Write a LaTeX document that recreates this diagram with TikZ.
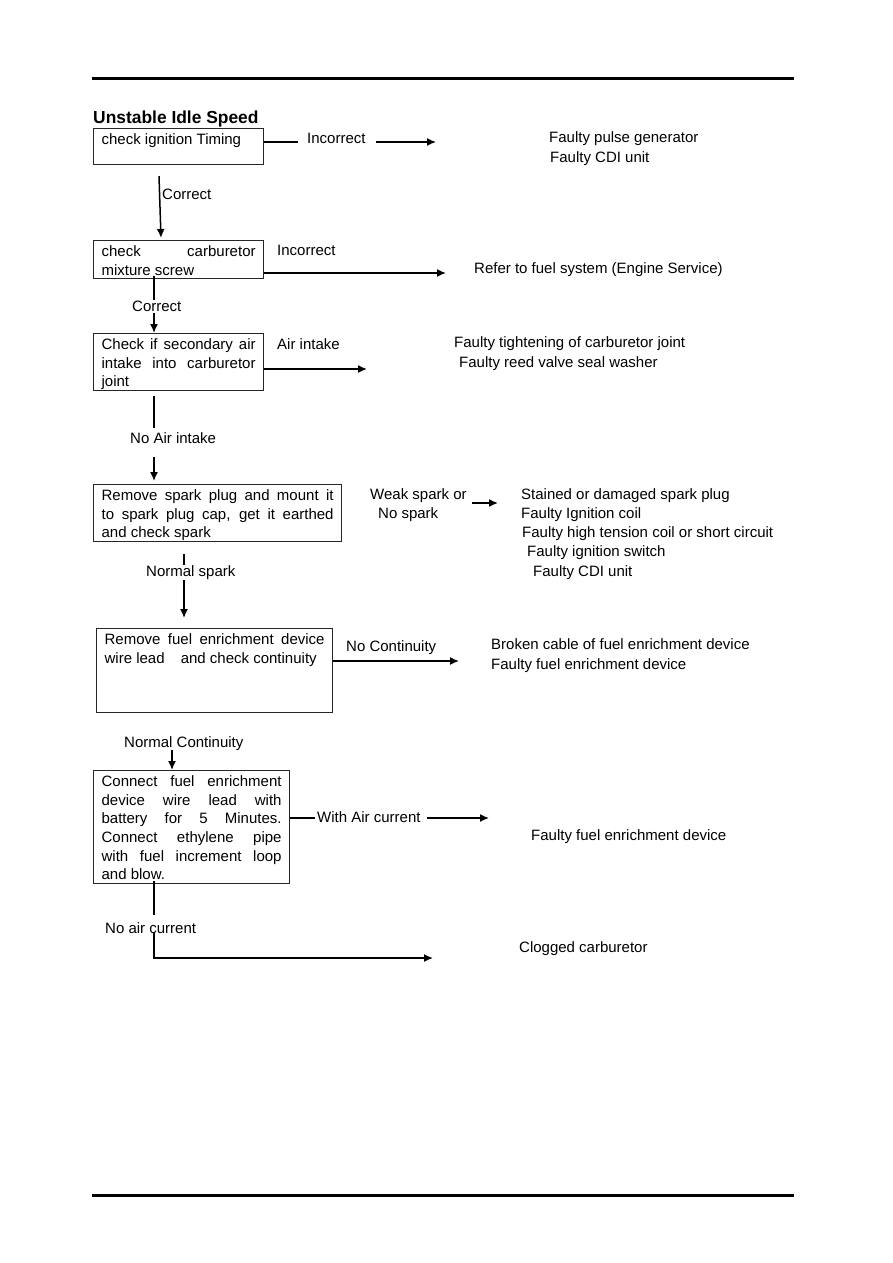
\documentclass[tikz,border=0pt]{standalone}
\usepackage{fontspec}
\setmainfont{Liberation Sans}
\usetikzlibrary{arrows.meta}

\tikzset{
  checkbox/.style={draw=black!85, line width=1.2pt, anchor=north west, align=justify,
    inner xsep=8pt, inner ysep=4pt, text height=12pt,
    font={\fontsize{15}{18.6}\selectfont\hyphenpenalty=10000\relax}},
  tag/.style={inner sep=0pt, anchor=base west, align=left, font=\fontsize{15}{18.6}\selectfont},
  fault/.style={inner sep=0pt, anchor=base west, align=left, font=\fontsize{15}{19.2}\selectfont},
  flow/.style={line width=1.5pt, -{Latex[length=9pt,width=8pt]}},
  link/.style={line width=1.5pt},
}

\begin{document}
\begin{tikzpicture}[x=1pt, y=-1pt]
           \path[fill=white, use as bounding box] (0,0) rectangle (893,1263);
           \draw[line width=3pt] (92,78.5) -- (794,78.5);
           \draw[line width=3pt] (92,1195.5) -- (794,1195.5);

           \node[tag, font=\fontsize{17.4}{20}\selectfont\bfseries] (title) at (93,123) {Unstable Idle Speed};

           \node[checkbox, text width=154pt, text depth=16pt] (b1) at (93,128) {check ignition Timing};
           \node[checkbox, text width=154pt, text depth=18pt] (b2) at (93,240) {check carburetor\linebreak mixture screw};
           \node[checkbox, text width=154pt, text depth=37pt] (b3) at (93,333) {Check if secondary air\linebreak intake into carburetor\linebreak joint};
           \node[checkbox, text width=232pt, text depth=37pt] (b4) at (93,484) {Remove spark plug and mount it\linebreak to spark plug cap, get it earthed\linebreak and check spark};
           \node[checkbox, text width=220pt, text depth=64pt] (b5) at (96,628) {Remove fuel enrichment device\linebreak wire lead\hspace{12pt} and check continuity};
           \node[checkbox, text width=180pt, text depth=93pt] (b6) at (93,770) {Connect fuel enrichment\linebreak device wire lead with\linebreak battery for 5 Minutes.\linebreak Connect ethylene pipe\linebreak with fuel increment loop\linebreak and blow.};

           \node[tag] (inc1) at (307,143) {Incorrect};
           \node[tag] (cor1) at (162,199) {Correct};
           \node[tag] (inc2) at (277,255) {Incorrect};
           \node[tag] (cor2) at (132,311) {Correct};
           \node[tag] (air) at (277,349) {Air intake};
           \node[tag] (noair) at (130,443) {No Air intake};
           \node[tag] (weak) at (370,518) {Weak spark or\\\hspace*{8pt}No spark};
           \node[tag] (nspark) at (146,576) {Normal spark};
           \node[tag] (nocont) at (346,651) {No Continuity};
           \node[tag] (ncont) at (124,747) {Normal Continuity};
           \node[tag] (wac) at (317,822) {With Air current};
           \node[tag] (nocur) at (105,933) {No air current};

           \node[fault] (r1) at (549,162) {Faulty pulse generator\\\hspace*{1pt}Faulty CDI unit};
           \node[fault] (r2) at (474,273) {Refer to fuel system (Engine Service)};
           \node[fault] (r3) at (454,367) {Faulty tightening of carburetor joint\\\hspace*{5pt}Faulty reed valve seal washer};
           \node[fault] (r4) at (521,576) {Stained or damaged spark plug\\Faulty Ignition coil\\\hspace*{1pt}Faulty high tension coil or short circuit\\\hspace*{6pt}Faulty ignition switch\\\hspace*{12pt}Faulty CDI unit};
           \node[fault] (r5) at (491,669) {Broken cable of fuel enrichment device\\Faulty fuel enrichment device};
           \node[fault] (r6) at (531,840) {Faulty fuel enrichment device};
           \node[fault] (r7) at (519,952) {Clogged carburetor};

           \coordinate (e1) at (436,142);
           \coordinate (e2) at (446,273);
           \coordinate (e3) at (367,369);
           \coordinate (e4) at (498,503);
           \coordinate (e5) at (459,661);
           \coordinate (e6) at (489,818);
           \coordinate (e7) at (433,958);

           \draw[link, shorten >=9pt] (b1.east |- e1) -- (inc1.west |- e1);
           \draw[flow, shorten <=10pt] (inc1.east |- e1) -- (e1);
           \draw[flow] (b2.east |- e2) -- (e2);
           \draw[flow] (b3.east |- e3) -- (e3);
           \draw[flow, shorten <=5pt] (weak.east |- e4) -- (e4);
           \draw[flow] (b5.east |- e5) -- (e5);
           \draw[link, shorten >=2pt] (b6.east |- e6) -- (wac.west |- e6);
           \draw[flow, shorten <=6pt] (wac.east |- e6) -- (e6);

           \draw[flow] ([xshift=66pt,yshift=-11pt]b1.south west) -- ([xshift=68pt,yshift=2pt]b2.north west);
           \draw[link] ([xshift=61pt,yshift=3pt]b2.south west) -- ([xshift=22pt]cor2.north west);
           \draw[flow] ([xshift=22pt,yshift=-2pt]cor2.south west) -- ([xshift=61pt]b3.north west);
           \draw[link] ([xshift=61pt,yshift=-5pt]b3.south west) -- ([xshift=24pt,yshift=4pt]noair.north west);
           \draw[flow, shorten >=3pt] ([xshift=24pt,yshift=-14pt]noair.south west) -- ([xshift=61pt]b4.north west);
           \draw[link] ([xshift=91pt,yshift=-12pt]b4.south west) -- ([xshift=38pt]nspark.north west);
           \draw[flow] ([xshift=38pt,yshift=-1pt]nspark.south west) -- ([xshift=88pt,yshift=10pt]b5.north west);
           \draw[flow] ([xshift=48pt]ncont.south west) -- ([xshift=79pt]b6.north west);
           \draw[link] ([xshift=61pt,yshift=3pt]b6.south west) -- ([xshift=49pt,yshift=7pt]nocur.north west);
           \draw[flow] ([xshift=49pt]nocur.south west) |- (e7);
\end{tikzpicture}
\end{document}
